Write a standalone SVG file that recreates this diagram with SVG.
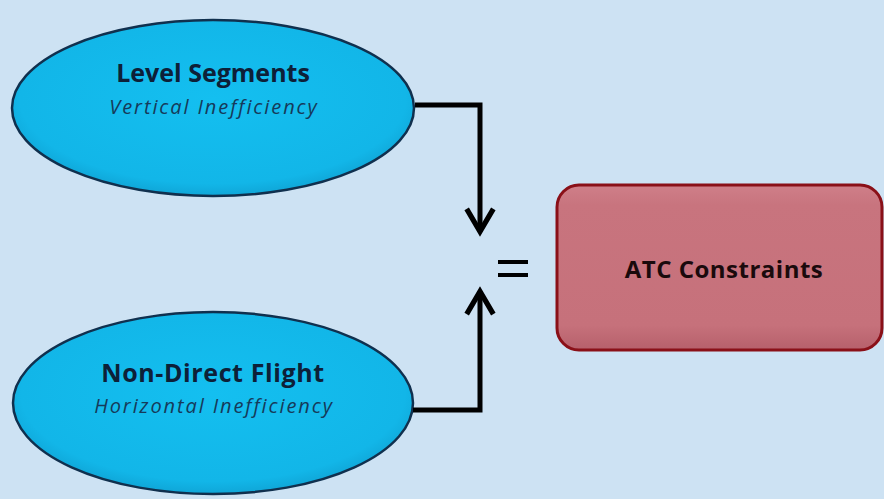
<svg xmlns="http://www.w3.org/2000/svg" width="884" height="499" viewBox="0 0 884 499">
<defs>
<radialGradient id="gBlue" cx="50%" cy="45%" r="60%">
<stop offset="0" stop-color="#14bff0"/>
<stop offset="0.8" stop-color="#12b6e8"/>
<stop offset="1" stop-color="#0d9acb"/>
</radialGradient>
<linearGradient id="gRed" x1="0" y1="0" x2="0" y2="1">
<stop offset="0" stop-color="#cf7f89"/>
<stop offset="0.12" stop-color="#c8747e"/>
<stop offset="0.85" stop-color="#c6717b"/>
<stop offset="1" stop-color="#b6606b"/>
</linearGradient>
<marker id="arr" viewBox="0 0 10 10" refX="8.6" refY="5" markerWidth="6.5" markerHeight="6.5" orient="auto" markerUnits="strokeWidth">
<path d="M1.5,0.9 L8.5,5 L1.5,9.1" fill="none" stroke="#000" stroke-width="1.6" stroke-linejoin="miter"/>
</marker>
</defs>
<style>
.ell{fill:url(#gBlue);stroke:#10304e;stroke-width:2.5}
.t1{font-family:"Open Sans","Liberation Sans",sans-serif;font-weight:bold;fill:#0d2038;text-anchor:middle;font-size:25px}
.t2{font-family:"Open Sans","Liberation Sans",sans-serif;font-style:italic;fill:#163a5a;text-anchor:middle;font-size:20px;letter-spacing:1.9px}
.con{fill:none;stroke:#000;stroke-width:5}
</style>
<rect width="884" height="499" fill="#cde2f3"/>
<g id="level-segments">
<ellipse class="ell" cx="213" cy="108" rx="201" ry="88"/>
<text class="t1" x="213" y="82">Level Segments</text>
<text class="t2" x="214" y="114">Vertical Inefficiency</text>
</g>
<g id="non-direct-flight">
<ellipse class="ell" cx="213" cy="403" rx="200" ry="91"/>
<text class="t1" x="213" y="382" style="letter-spacing:0.6px">Non-Direct Flight</text>
<text class="t2" x="214" y="413">Horizontal Inefficiency</text>
</g>
<g id="atc-constraints">
<rect x="557" y="185" width="325" height="165" rx="22" fill="url(#gRed)" stroke="#8a1018" stroke-width="3"/>
<text class="t1" x="724" y="278" style="fill:#1a0a0c;font-size:24px;letter-spacing:0.5px">ATC Constraints</text>
</g>
<g id="connectors">
<path class="con" d="M415,105 H480 V232" marker-end="url(#arr)"/>
<path class="con" d="M413,410 H480 V291" marker-end="url(#arr)"/>
<rect x="498" y="260" width="30" height="4" fill="#000"/>
<rect x="498" y="273" width="30" height="4" fill="#000"/>
</g>
</svg>
